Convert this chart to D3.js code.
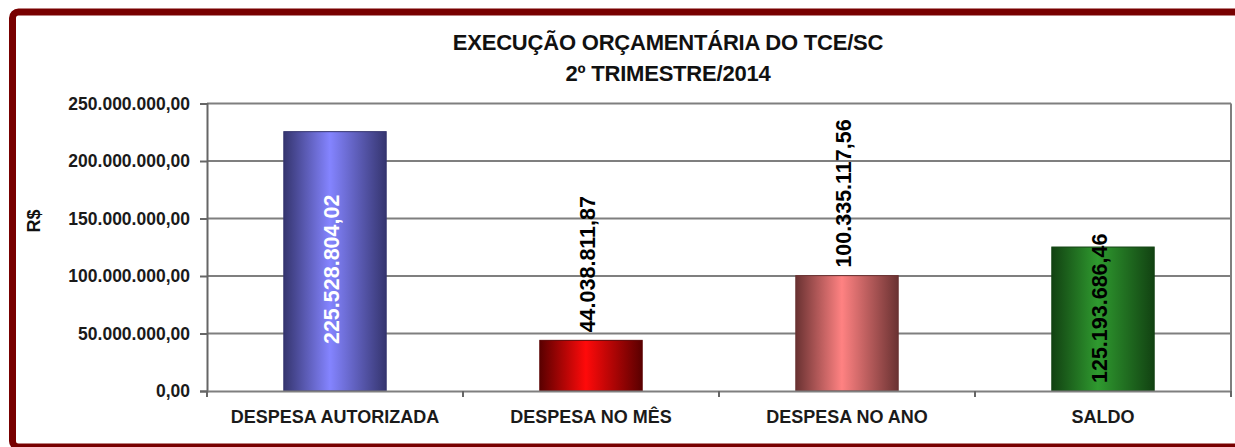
<!DOCTYPE html>
<html><head><meta charset="utf-8">
<script src="https://cdnjs.cloudflare.com/ajax/libs/d3/7.8.5/d3.min.js"></script>
<style>
html,body{margin:0;padding:0;background:#fff;}
svg{display:block;font-family:"Liberation Sans",Arial,sans-serif;}
</style></head>
<body><svg id="c" width="1235" height="447"></svg>
<script>
const categories = ["DESPESA AUTORIZADA", "DESPESA NO MÊS", "DESPESA NO ANO", "SALDO"];
const values = [225528804.02, 44038811.87, 100335117.56, 125193686.46];
const yTicks = [0, 50000000, 100000000, 150000000, 200000000, 250000000];
const titleLines = ["EXECUÇÃO ORÇAMENTÁRIA DO TCE/SC", "2º TRIMESTRE/2014"];
const yLabel = "R$";

const barColors = [
  {edge:"#35356f", mid:"#8484ff"},
  {edge:"#5a0000", mid:"#ff0a0a"},
  {edge:"#6a3232", mid:"#ff8282"},
  {edge:"#124212", mid:"#2f9a2f"}
];
const labelMode = ["center","outside","outside","base"];
const labelColor = ["#ffffff","#000000","#000000","#000000"];

const loc = d3.formatLocale({decimal:",", thousands:".", grouping:[3], currency:["R$",""]});
const fmt = loc.format(",.2f");

const svg = d3.select("#c");
const L = 207, R = 1231, T = 103.5, B = 391;

// frame
svg.append("rect").attr("x",12.5).attr("y",12).attr("width",1260).attr("height",435)
  .attr("rx",6).attr("fill","#fff").attr("stroke","#780000").attr("stroke-width",7);

const defs = svg.append("defs");
barColors.forEach((c,i)=>{
  const g = defs.append("linearGradient").attr("id","g"+i).attr("x1","0").attr("x2","1").attr("y1","0").attr("y2","0");
  g.append("stop").attr("offset","0%").attr("stop-color",c.edge);
  g.append("stop").attr("offset","45%").attr("stop-color",c.mid);
  g.append("stop").attr("offset","100%").attr("stop-color",c.edge);
});

const x = d3.scaleBand().domain(categories).range([L,R]).paddingInner(0.6).paddingOuter(0.3);
const y = d3.scaleLinear().domain([0,250000000]).range([B,T]);

// gridlines
svg.append("g").selectAll("line").data(yTicks.filter(d=>d>0)).join("line")
  .attr("x1",L).attr("x2",R).attr("y1",d=>y(d)).attr("y2",d=>y(d))
  .attr("stroke","#7f7f7f").attr("stroke-width",2);
// right border of plot
svg.append("line").attr("x1",R).attr("x2",R).attr("y1",T).attr("y2",B).attr("stroke","#7f7f7f").attr("stroke-width",2);

// bars
svg.append("g").selectAll("rect").data(values).join("rect")
  .attr("x",(d,i)=>x(categories[i])).attr("width",x.bandwidth())
  .attr("y",d=>y(d)).attr("height",d=>B-y(d))
  .attr("fill",(d,i)=>"url(#g"+i+")")
  .attr("stroke",(d,i)=>barColors[i].edge).attr("stroke-width",1);

// y axis
const ya = svg.append("g").attr("transform",`translate(${L},0)`)
  .call(d3.axisLeft(y).tickValues(yTicks).tickFormat(fmt).tickSize(7).tickPadding(10));
ya.select(".domain").attr("stroke","#666").attr("stroke-width",2);
ya.selectAll(".tick line").attr("stroke","#666").attr("stroke-width",2);
ya.selectAll(".tick text").attr("font-size",17.5).attr("font-weight","bold").attr("fill","#1a1a1a")
  .attr("font-family","'Liberation Sans',Arial,sans-serif");

// x axis
const xa = svg.append("g").attr("transform",`translate(0,${B})`)
  .call(d3.axisBottom(x).tickSize(0).tickPadding(19));
xa.select(".domain").attr("stroke","#7f7f7f").attr("stroke-width",2);
xa.selectAll(".tick text").attr("font-size",18).attr("font-weight","bold").attr("fill","#1a1a1a")
  .attr("font-family","'Liberation Sans',Arial,sans-serif");
// boundary ticks
const half = x.step()*x.paddingInner()/2;
const bounds = categories.map(c=>x(c)-half).concat([x(categories[categories.length-1])+x.bandwidth()+half]);
svg.append("g").selectAll("line").data(bounds).join("line")
  .attr("x1",d=>d).attr("x2",d=>d).attr("y1",B).attr("y2",B+6)
  .attr("stroke","#666").attr("stroke-width",2);

// data labels
svg.append("g").selectAll("text").data(values).join("text")
  .attr("transform",(d,i)=>{
    const cx = x(categories[i])+x.bandwidth()/2 - 3;
    let cy;
    if(labelMode[i]==="center") cy=(y(d)+B)/2 + 8;
    else if(labelMode[i]==="outside") cy=y(d)-8;
    else cy=B-8;
    return `translate(${cx},${cy}) rotate(-90)`;
  })
  .attr("text-anchor",(d,i)=>labelMode[i]==="center"?"middle":"start")
  .attr("dominant-baseline","central")
  .attr("font-size",21.5).attr("font-weight","bold")
  .attr("fill",(d,i)=>labelColor[i])
  .text(d=>fmt(d));

// title
svg.append("g").selectAll("text").data(titleLines).join("text")
  .attr("x",668).attr("y",(d,i)=>50+i*31).attr("text-anchor","middle")
  .attr("font-size",22).attr("font-weight","bold").attr("fill","#111")
  .attr("letter-spacing",-0.2)
  .text(d=>d);

// y label
svg.append("text").attr("transform","translate(40,221) rotate(-90)").attr("text-anchor","middle")
  .attr("font-size",18).attr("font-weight","bold").attr("fill","#111").text(yLabel);
</script></body></html>
